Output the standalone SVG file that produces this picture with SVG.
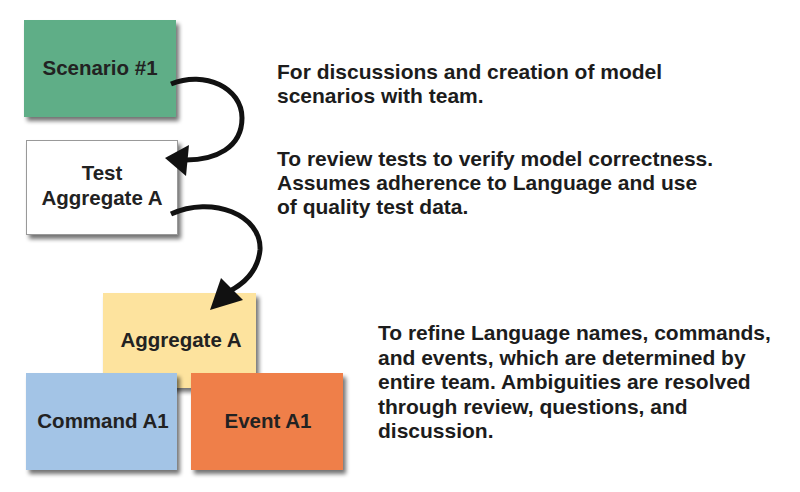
<svg xmlns="http://www.w3.org/2000/svg" width="800" height="492" viewBox="0 0 800 492">
<defs>
<filter id="sh" x="-10%" y="-10%" width="125%" height="130%">
<feGaussianBlur in="SourceAlpha" stdDeviation="2.2"/>
<feOffset dx="3" dy="4" result="b"/>
<feComponentTransfer><feFuncA type="linear" slope="0.55"/></feComponentTransfer>
<feMerge><feMergeNode/><feMergeNode in="SourceGraphic"/></feMerge>
</filter>
</defs>
<style>
.lbl{font-family:"Liberation Sans",Arial,sans-serif;font-weight:bold;font-size:20.5px;fill:#222;text-anchor:middle}
.txt{font-family:"Liberation Sans",Arial,sans-serif;font-weight:bold;font-size:21px;fill:#1c1c1c}
.conn{fill:none;stroke:#111;stroke-width:5}
.head{fill:#111}
</style>
<rect width="800" height="492" fill="#fff"/>
<g id="scenario">
<rect x="24" y="20" width="152" height="97" fill="#5fae87" filter="url(#sh)"/>
<text class="lbl" x="100" y="75">Scenario #1</text>
</g>
<g id="test">
<rect x="26.5" y="140.5" width="151" height="94" fill="#fff" stroke="#999" stroke-width="1" filter="url(#sh)"/>
<text class="lbl" x="102" y="180">Test</text>
<text class="lbl" x="102" y="205">Aggregate A</text>
</g>
<g id="aggregate">
<rect x="103" y="293" width="153" height="95" fill="#fde39e" filter="url(#sh)"/>
<text class="lbl" x="181" y="347">Aggregate A</text>
</g>
<g id="command">
<rect x="26" y="373" width="151" height="97" fill="#a3c4e6" filter="url(#sh)"/>
<text class="lbl" x="103" y="428">Command A1</text>
</g>
<g id="event">
<rect x="191" y="373" width="152" height="97" fill="#ef7f48" filter="url(#sh)"/>
<text class="lbl" x="268" y="428">Event A1</text>
</g>
<g id="connectors">
<path class="conn" d="M171,84 C205,70 242,88 242,118 C242,148 215,160 186,160"/>
<polygon class="head" points="165,158 189,145 186,176"/>
<path class="conn" d="M171,214 C212,195 262,215 260,250 C258,270 245,283 230,291"/>
<polygon class="head" points="210,310 221,278 243,300"/>
</g>
<g id="notes">
<text class="txt" x="277" y="79">For discussions and creation of model</text>
<text class="txt" x="277" y="103">scenarios with team.</text>
<text class="txt" x="277" y="166">To review tests to verify model correctness.</text>
<text class="txt" x="277" y="190">Assumes adherence to Language and use</text>
<text class="txt" x="277" y="214">of quality test data.</text>
<text class="txt" x="378" y="340">To refine Language names, commands,</text>
<text class="txt" x="378" y="364.5">and events, which are determined by</text>
<text class="txt" x="378" y="389">entire team. Ambiguities are resolved</text>
<text class="txt" x="378" y="413.5">through review, questions, and</text>
<text class="txt" x="378" y="438">discussion.</text>
</g>
</svg>
